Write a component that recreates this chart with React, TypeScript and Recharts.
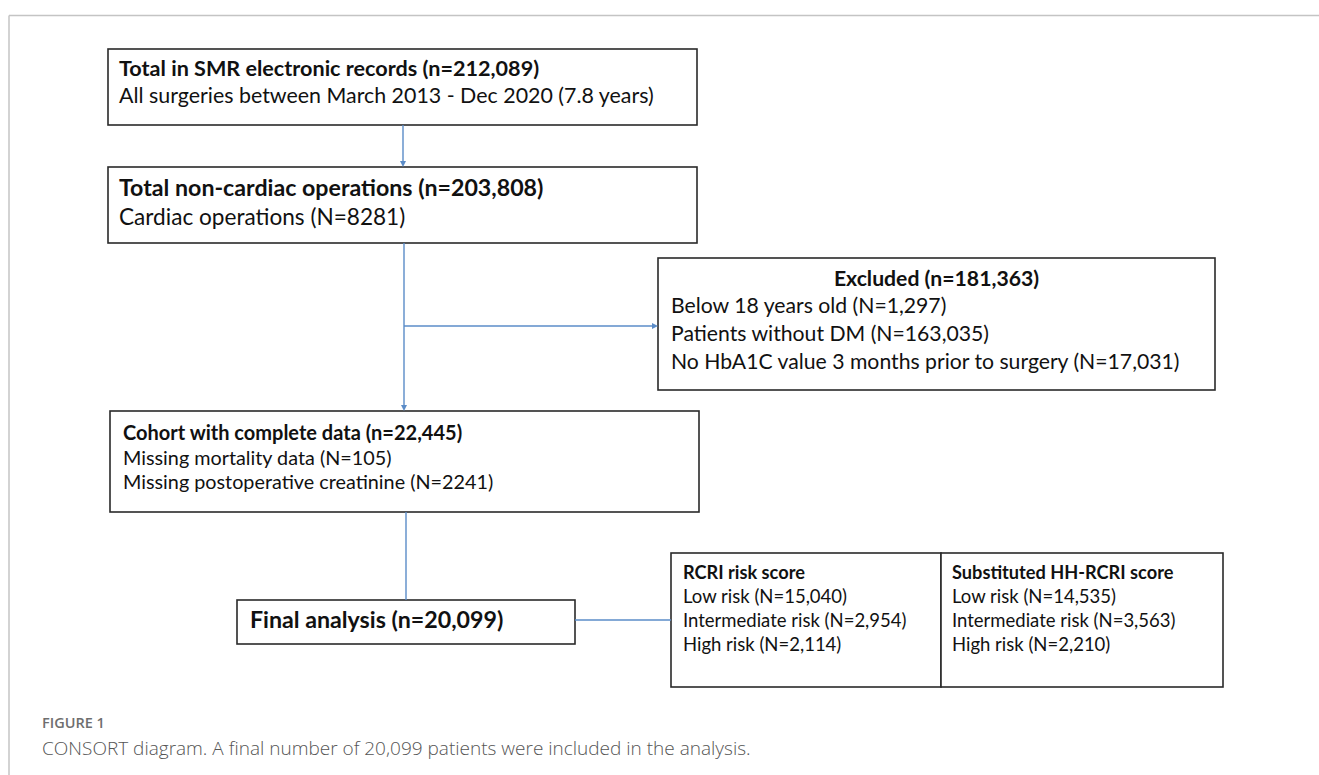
import React from 'react';
import { ComposedChart, XAxis, YAxis, ReferenceArea, ReferenceLine } from 'recharts';

// ---- diagram content ----
const boxTitles = [
  'Total in SMR electronic records (n=212,089)',
  'Total non-cardiac operations (n=203,808)',
  'Excluded (n=181,363)',
  'Cohort with complete data (n=22,445)',
  'Final analysis (n=20,099)',
  'RCRI risk score',
  'Substituted HH-RCRI score',
];

const boxLines: string[][] = [
  ['All surgeries between March 2013 - Dec 2020 (7.8 years)'],
  ['Cardiac operations (N=8281)'],
  [
    'Below 18 years old (N=1,297)',
    'Patients without DM (N=163,035)',
    'No HbA1C value 3 months prior to surgery (N=17,031)',
  ],
  ['Missing mortality data (N=105)', 'Missing postoperative creatinine (N=2241)'],
  [],
  ['Low risk (N=15,040)', 'Intermediate risk (N=2,954)', 'High risk (N=2,114)'],
  ['Low risk (N=14,535)', 'Intermediate risk (N=3,563)', 'High risk (N=2,210)'],
];

const figureLabel = 'FIGURE 1';
const figureCaption =
  'CONSORT diagram. A final number of 20,099 patients were included in the analysis.';

// ---- layout (diagram units = page pixels) ----
const W = 1319;
const H = 775;

const boxFrames = [
  { x1: 108, x2: 697, y1: 49, y2: 125 },
  { x1: 108, x2: 697, y1: 167, y2: 243 },
  { x1: 658, x2: 1215, y1: 258, y2: 390 },
  { x1: 110, x2: 699, y1: 411, y2: 512 },
  { x1: 237, x2: 575, y1: 600, y2: 644 },
  { x1: 671, x2: 941, y1: 553, y2: 687 },
  { x1: 941, x2: 1223, y1: 553, y2: 687 },
];

// padding, font sizes, baselines (offset from box top)
const boxStyles = [
  { pad: 11, titleSize: 21.6, bodySize: 21.4, titleBase: 27, lineBase: [54], center: false },
  { pad: 11, titleSize: 23.2, bodySize: 22.6, titleBase: 29, lineBase: [58], center: false },
  { pad: 13, titleSize: 21.2, bodySize: 21.2, titleBase: 28, lineBase: [55, 83, 111], center: true },
  { pad: 13, titleSize: 20, bodySize: 19.8, titleBase: 29, lineBase: [54, 78], center: false },
  { pad: 13, titleSize: 23.2, bodySize: 23, titleBase: 28, lineBase: [], center: false },
  { pad: 12, titleSize: 18.2, bodySize: 18.5, titleBase: 26, lineBase: [50, 74, 98], center: false },
  { pad: 11, titleSize: 18.2, bodySize: 18.5, titleBase: 26, lineBase: [50, 74, 98], center: false },
];

const connectors = [
  { from: { x: 403, y: 125 }, to: { x: 403, y: 167 }, arrow: true },
  { from: { x: 404, y: 243 }, to: { x: 404, y: 411 }, arrow: true },
  { from: { x: 404, y: 326 }, to: { x: 658, y: 326 }, arrow: true },
  { from: { x: 406, y: 512 }, to: { x: 406, y: 600 }, arrow: false },
  { from: { x: 575, y: 620 }, to: { x: 671, y: 620 }, arrow: false },
];

const frameLines = [
  [{ x: 9, y: 15.5 }, { x: W, y: 15.5 }],
  [{ x: 9, y: 15.5 }, { x: 9, y: H }],
];

const BOX_FONT = 'Lato, "Noto Sans", sans-serif';
const CAPTION_FONT = '"Open Sans", "Noto Sans", sans-serif';
const LINE_COLOR = '#5b8cc8';
const BOX_STROKE = '#2a2a2a';

function makeBoxShape(i: number) {
  return (props: any) => {
    const { x, y, width, height } = props;
    const s = boxStyles[i];
    const tx = s.center ? x + width / 2 : x + s.pad;
    return (
      <g>
        <rect x={x} y={y} width={width} height={height} fill="#fff" stroke={BOX_STROKE} strokeWidth={1.6} />
        <text
          x={tx}
          y={y + s.titleBase}
          fontFamily={BOX_FONT}
          fontWeight={700}
          fontSize={s.titleSize}
          fill="#111"
          textAnchor={s.center ? 'middle' : 'start'}
        >
          {boxTitles[i]}
        </text>
        {boxLines[i].map((line, k) => (
          <text
            key={k}
            x={x + s.pad}
            y={y + s.lineBase[k]}
            fontFamily={BOX_FONT}
            fontSize={s.bodySize}
            fill="#111"
          >
            {line}
          </text>
        ))}
      </g>
    );
  };
}

function makeConnector(arrow: boolean) {
  return (props: any) => {
    const { x1, y1, x2, y2 } = props;
    const dx = x2 - x1;
    const dy = y2 - y1;
    const len = Math.sqrt(dx * dx + dy * dy) || 1;
    const ux = dx / len;
    const uy = dy / len;
    const hl = 6;
    const hw = 3;
    const bx = x2 - ux * hl;
    const by = y2 - uy * hl;
    return (
      <g>
        <line x1={x1} y1={y1} x2={arrow ? bx : x2} y2={arrow ? by : y2} stroke={LINE_COLOR} strokeWidth={1.4} />
        {arrow && (
          <polygon
            points={`${x2},${y2} ${bx - uy * hw},${by + ux * hw} ${bx + uy * hw},${by - ux * hw}`}
            fill={LINE_COLOR}
          />
        )}
      </g>
    );
  };
}

export default function App() {
  return (
    <div style={{ position: 'absolute', left: 0, top: 0, width: W, height: H, background: '#fff' }}>
      <ComposedChart width={W} height={H} margin={{ top: 0, right: 0, bottom: 0, left: 0 }} data={[]}>
        <XAxis type="number" dataKey="x" domain={[0, W]} hide allowDataOverflow />
        <YAxis type="number" dataKey="y" domain={[0, H]} reversed hide allowDataOverflow />

        {frameLines.map((seg, i) => (
          <ReferenceLine key={`f${i}`} segment={seg} stroke="#c4c4c4" strokeWidth={1.5} ifOverflow="visible" />
        ))}

        {connectors.map((c, i) => (
          <ReferenceLine
            key={`c${i}`}
            segment={[c.from, c.to]}
            ifOverflow="visible"
            shape={makeConnector(c.arrow)}
          />
        ))}

        {boxFrames.map((f, i) => (
          <ReferenceArea
            key={`b${i}`}
            x1={f.x1}
            x2={f.x2}
            y1={f.y1}
            y2={f.y2}
            ifOverflow="visible"
            shape={makeBoxShape(i)}
          />
        ))}

        <ReferenceLine
          segment={[{ x: 42, y: 728 }, { x: 43, y: 728 }]}
          ifOverflow="visible"
          shape={(p: any) => (
            <g>
              <text x={p.x1} y={p.y1} fontFamily={CAPTION_FONT} fontWeight={600} fontSize={14.5} fill="#6e6e6e">
                {figureLabel}
              </text>
              <text x={p.x1} y={p.y1 + 27} fontFamily={CAPTION_FONT} fontWeight={300} fontSize={19} fill="#555">
                {figureCaption}
              </text>
            </g>
          )}
        />
      </ComposedChart>
    </div>
  );
}
